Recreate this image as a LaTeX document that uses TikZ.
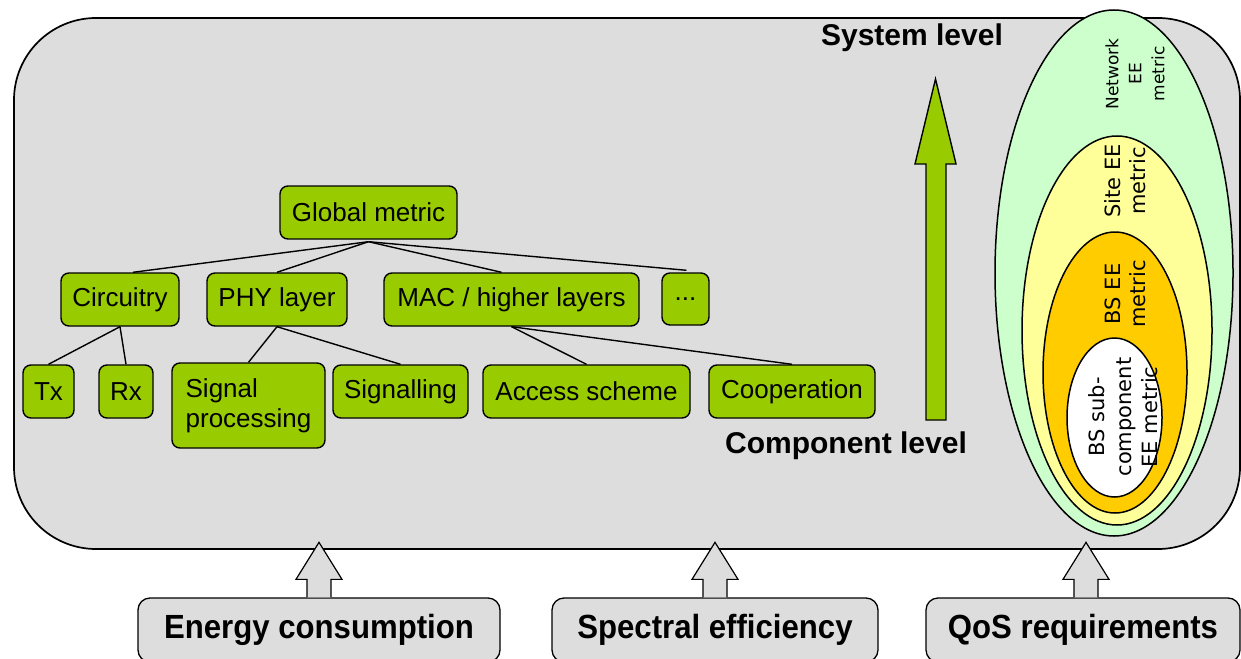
\documentclass[tikz,border=0pt]{standalone}
\usepackage{fontspec}
\setmainfont{Liberation Sans}
\newfontfamily\djv{DejaVu Sans}
\usetikzlibrary{calc}
\definecolor{panelgray}{HTML}{DDDDDD}
\definecolor{leafgreen}{HTML}{99CC00}
\definecolor{netgreen}{HTML}{CCFFCC}
\definecolor{siteyellow}{HTML}{FFFF99}
\definecolor{bsorange}{HTML}{FFCC00}
\newcommand{\narrowlbl}[1]{\scalebox{0.93}[1.0]{#1}}
\begin{document}
\begin{tikzpicture}[x=1pt,y=-1pt,
  tbox/.style={draw, line width=1.4pt, fill=leafgreen, rounded corners=8pt, inner sep=0pt, font=\fontsize{26}{30}\selectfont},
  link/.style={line width=1.4pt},
  inbox/.style={draw, line width=1.3pt, fill=panelgray, rounded corners=12pt, inner sep=0pt, minimum height=64pt, font=\bfseries\fontsize{33.5}{38}\selectfont},
  grayarrow/.style={draw, line width=1.2pt, fill=panelgray, line join=miter},
  ell/.style={draw, line width=1.5pt},
  elltext/.style={rotate=90, align=center, inner sep=0pt},
  levellabel/.style={font=\bfseries\fontsize{30}{36}\selectfont, inner sep=0pt}]
\useasboundingbox (0,0) rectangle (1241,658);
% main panel
\draw[fill=panelgray, line width=1.7pt, rounded corners=82pt] (14,18) rectangle (1240,549);

% tree
\node[tbox, minimum width=177pt, minimum height=53pt] (gm) at (368.5,212.5) {Global metric};
\node[tbox, minimum width=118pt, minimum height=53pt] (circ) at (120,299.5) {Circuitry};
\node[tbox, minimum width=140pt, minimum height=53pt] (phy) at (277,299.5) {PHY layer};
\node[tbox, minimum width=255pt, minimum height=53pt] (mac) at (511.5,299.5) {MAC / higher layers};
\node[tbox, minimum width=47pt, minimum height=52pt] (dots) at (685.5,299) {...};
\node[tbox, minimum width=51pt, minimum height=53pt] (tx) at (48.5,391.5) {Tx};
\node[tbox, minimum width=54pt, minimum height=53pt] (rx) at (126,391.5) {Rx};
\node[tbox, minimum width=153pt, minimum height=85pt, align=left] (sp) at (248.5,405.5) {Signal\\processing};
\node[tbox, minimum width=135pt, minimum height=53pt] (sig) at (400.5,391.5) {Signalling};
\node[tbox, minimum width=207pt, minimum height=53pt] (acc) at (586.5,391.5) {Access scheme};
\node[tbox, minimum width=166pt, minimum height=53pt] (coop) at (792,391.5) {Cooperation};

\draw[link] ([yshift=-2pt]gm.south) -- ([xshift=13pt]circ.north);
\draw[link] ([yshift=-2pt]gm.south) -- (phy.north);
\draw[link] ([yshift=-2pt]gm.south) -- ([xshift=-10pt]mac.north);
\draw[link] ([yshift=-2pt]gm.south) -- ([xshift=1pt,yshift=2pt]dots.north);
\draw[link] (circ.south) -- (tx.north);
\draw[link] (circ.south) -- (rx.north);
\draw[link] (phy.south) -- (sp.north);
\draw[link] (phy.south) -- (sig.north);
\draw[link] (mac.south) -- (acc.north);
\draw[link] (mac.south) -- (coop.north);

% level arrow
\node[levellabel] (sys) at (912,38) {System level};
\node[levellabel] (comp) at (846,446) {Component level};
\draw[fill=leafgreen, line width=1.4pt, line join=miter]
  (926,420) -- (926,164) -- (915,164) -- (935.5,79) -- (956,164) -- (946,164) -- (946,420) -- cycle;

% ellipses
\draw[ell, fill=netgreen] (1114,273) ellipse [x radius=119pt, y radius=263pt];
\draw[ell, fill=siteyellow] (1117,330.5) ellipse [x radius=95pt, y radius=194.5pt];
\draw[ell, fill=bsorange] (1115,372.5) ellipse [x radius=72pt, y radius=140.5pt];
\draw[ell, fill=white] (1114.5,417.5) ellipse [x radius=47.5pt, y radius=79.5pt];
\node[elltext, font=\djv\fontsize{17}{23}\selectfont] (net) at (1135,74) {Network\\EE\\metric};
\node[elltext, font=\djv\fontsize{21}{25}\selectfont] (site) at (1125.5,181) {Site EE\\metric};
\node[elltext, font=\djv\fontsize{21}{25}\selectfont] (bs) at (1125.5,294) {BS EE\\metric};
\node[elltext, font=\djv\fontsize{21}{26.5}\selectfont] (sub) at (1123.5,417) {BS sub-\\component\\EE metric};

% inputs
\node[inbox, minimum width=362pt] (energy) at (319,630) {\narrowlbl{Energy consumption}};
\node[inbox, minimum width=326pt] (spec) at (715,630) {\narrowlbl{Spectral efficiency}};
\node[inbox, minimum width=314pt] (qos) at (1083,630) {\narrowlbl{QoS requirements}};
\foreach \b/\dx in {energy/0, spec/0, qos/3} {
  \draw[grayarrow] ($(\b.north)+(\dx-12,0)$) -- ++(0,-18) -- ++(-11,0) -- ($(\b.north)+(\dx,-55)$)
    -- ($(\b.north)+(\dx+23,-18)$) -- ++(-11,0) -- ($(\b.north)+(\dx+12,0)$);
}
\end{tikzpicture}
\end{document}
